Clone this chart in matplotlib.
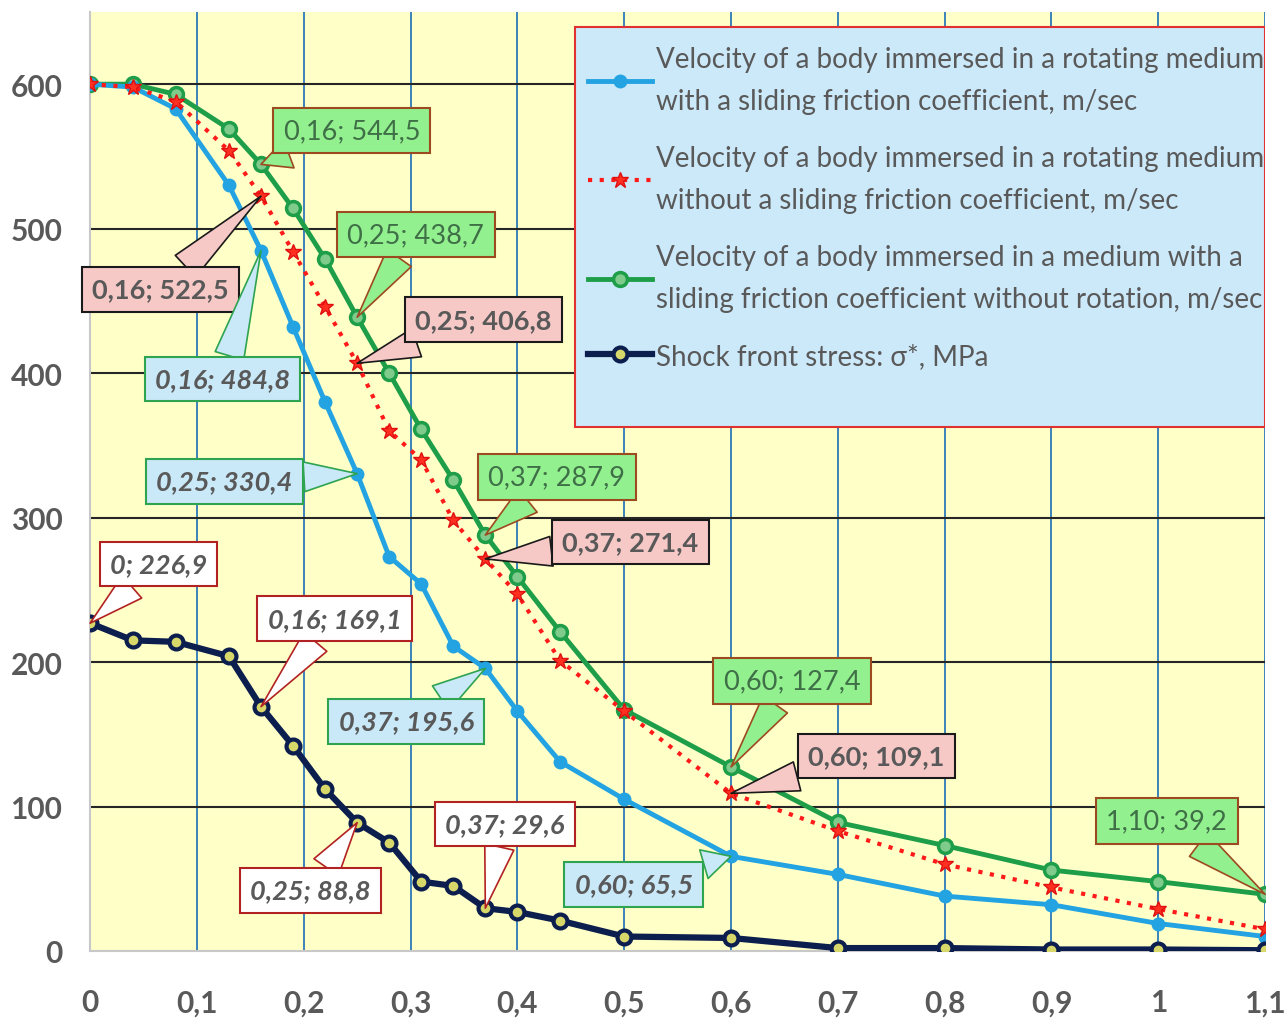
import matplotlib
matplotlib.use("Agg")
from matplotlib import pyplot as plt
from matplotlib.patches import Rectangle
from matplotlib.ticker import FuncFormatter

plt.rcParams['font.family'] = ['Lato', 'DejaVu Sans']

# x positions (shared by all series)
x_vals = [0, 0.04, 0.08, 0.13, 0.16, 0.19, 0.22, 0.25, 0.28, 0.31, 0.34, 0.37,
          0.40, 0.44, 0.50, 0.60, 0.70, 0.80, 0.90, 1.00, 1.10]

v_rot_friction = [600, 598, 583, 530, 484.8, 432, 380, 330.4, 273, 254, 211, 195.6,
                  166, 131, 105, 65.5, 53, 38, 32, 19, 10]
v_rot_nofriction = [600, 598, 588, 554, 522.5, 484, 446, 406.8, 360, 340, 298, 271.4,
                    247, 201, 166, 109.1, 83, 60, 44, 29, 15]
v_friction_norot = [600, 600, 593, 569, 544.5, 514, 479, 438.7, 400, 361, 326, 287.9,
                    259, 221, 167, 127.4, 89, 73, 56, 48, 39.2]
shock_stress = [226.9, 215, 214, 204, 169.1, 142, 112, 88.8, 75, 48, 45, 29.6,
                27, 21, 10, 9, 2, 2, 1, 1, 0.5]

labels = ["Velocity of a body immersed in a rotating medium\nwith a sliding friction coefficient, m/sec",
          "Velocity of a body immersed in a rotating medium\nwithout a sliding friction coefficient, m/sec",
          "Velocity of a body immersed in a medium with a\nsliding friction coefficient without rotation, m/sec",
          "Shock front stress: σ*, MPa"]

x_ticks = [0, 0.1, 0.2, 0.3, 0.4, 0.5, 0.6, 0.7, 0.8, 0.9, 1.0, 1.1]
y_ticks = [0, 100, 200, 300, 400, 500, 600]

# callouts: (series index, x value, text x, text y)
callouts = [
    (2, 0.16, 0.245, 568), (1, 0.16, 0.066, 458), (0, 0.16, 0.124, 396),
    (2, 0.25, 0.305, 496), (1, 0.25, 0.368, 437), (0, 0.25, 0.126, 325),
    (2, 0.37, 0.437, 328), (1, 0.37, 0.506, 283), (0, 0.37, 0.296, 159),
    (3, 0.0, 0.064, 268), (3, 0.16, 0.229, 230), (3, 0.25, 0.206, 42),
    (3, 0.37, 0.388, 88), (0, 0.60, 0.509, 46), (2, 0.60, 0.657, 187),
    (1, 0.60, 0.736, 135), (2, 1.10, 1.008, 90),
]

series = [v_rot_friction, v_rot_nofriction, v_friction_norot, shock_stress]
gray = '#595959'

fig = plt.figure(figsize=(12.87, 10.2), dpi=100)
ax = fig.add_axes([0.070, 0.0667, 0.913, 0.9206])
ax.set_facecolor('#FFFFC8')

ax.plot(x_vals, v_rot_friction, color='#23A3E2', lw=3.5, marker='o', ms=9,
        mfc='#23A3E2', mec='#23A3E2', label=labels[0], zorder=4)
ax.plot(x_vals, v_rot_nofriction, color='#FF1A1A', lw=3, ls=(0, (1, 1.8)), marker='*',
        ms=12, mfc='#FF3020', mec='#E01010', label=labels[1], zorder=5)
ax.plot(x_vals, v_friction_norot, color='#1E9E48', lw=3.5, marker='o', ms=10,
        mfc='#7FCB8C', mec='#1E9E48', mew=2.5, label=labels[2], zorder=3)
ax.plot(x_vals, shock_stress, color='#0C1E4E', lw=4.5, marker='o', ms=10,
        mfc='#D8D86A', mec='#0C1E4E', mew=3, label=labels[3], zorder=4)

ax.set_xlim(0, 1.1)
ax.set_ylim(0, 650)
ax.set_xticks(x_ticks)
ax.set_yticks(y_ticks)
fmt_x = FuncFormatter(lambda v, p: ('%g' % round(v, 2)).replace('.', ','))
ax.xaxis.set_major_formatter(fmt_x)
ax.tick_params(axis='both', length=0, labelsize=21.5, labelcolor=gray)
ax.tick_params(axis='x', pad=27)
ax.tick_params(axis='y', pad=20)
for lab in ax.get_xticklabels() + ax.get_yticklabels():
    lab.set_fontweight('bold')

for xv in x_ticks[1:]:
    ax.axvline(xv, color='#2C7AB8', lw=1.3, zorder=1)
for yv in y_ticks[1:]:
    ax.axhline(yv, color='#262626', lw=1.5, zorder=1)
for side in ['top', 'right']:
    ax.spines[side].set_visible(False)
for side in ['left', 'bottom']:
    ax.spines[side].set_color('#C8C8C8')
    ax.spines[side].set_linewidth(1.5)

# legend background box
ax.add_patch(Rectangle((0.413, 0.558), 0.587, 0.426, transform=ax.transAxes,
                       fc='#CCE9FA', ec='#E03030', lw=1.5, zorder=6))
leg = ax.legend(loc='upper left', bbox_to_anchor=(0.424, 0.964), frameon=False,
                fontsize=20, labelcolor=gray, handlelength=2.3, handletextpad=0.12,
                labelspacing=1.1, borderaxespad=0, borderpad=0)
for t in leg.get_texts():
    t.set_linespacing(1.78)
leg.set_zorder(7)

box_styles = [
    dict(fc='#C9E8F8', ec='#2EA350', color=gray, weight='bold', style='italic'),
    dict(fc='#F6C9C7', ec='#1A1A1A', color=gray, weight='bold', style='normal'),
    dict(fc='#93F08F', ec='#9C4A1F', color='#3F6F47', weight='normal', style='normal'),
    dict(fc='white', ec='#B22222', color=gray, weight='bold', style='italic'),
]

for si, xv, tx, ty in callouts:
    yv = series[si][x_vals.index(xv)]
    xs = '0' if xv == 0 else ('%.2f' % xv).replace('.', ',')
    txt = xs + '; ' + ('%.1f' % yv).replace('.', ',')
    st = box_styles[si]
    ax.annotate(txt, xy=(xv, yv), xytext=(tx, ty), ha='center', va='center',
                fontsize=19.5, color=st['color'], fontweight=st['weight'],
                fontstyle=st['style'], zorder=8,
                bbox=dict(boxstyle='square,pad=0.38', fc=st['fc'], ec=st['ec'], lw=1.5),
                arrowprops=dict(arrowstyle='wedge,tail_width=1.1,shrink_factor=0.5',
                                fc=st['fc'], ec=st['ec'], lw=1.2,
                                shrinkA=0, shrinkB=0))

fig.savefig('out.png', dpi=100, facecolor='white')
